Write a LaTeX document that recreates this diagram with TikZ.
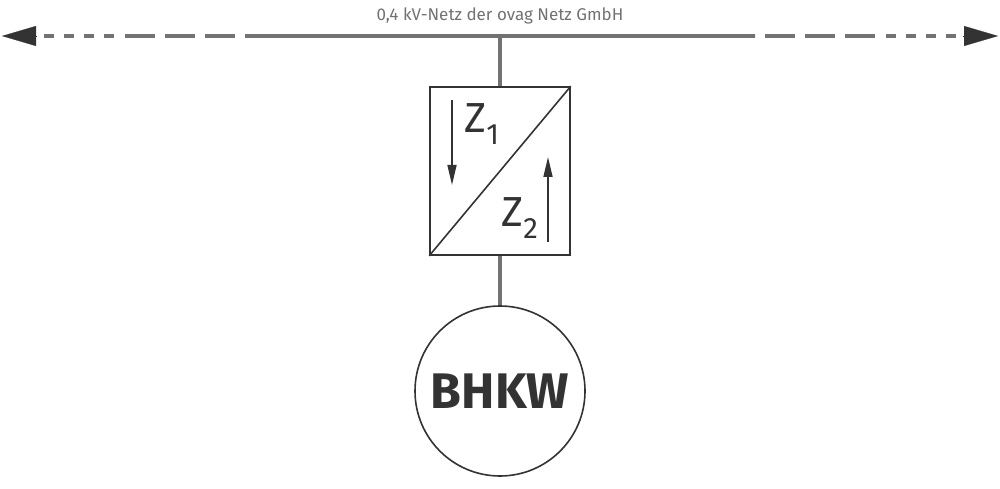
\documentclass[tikz,border=0pt]{standalone}
\usepackage{fontspec}
\setmainfont{Fira Sans}
\usetikzlibrary{arrows.meta}
\definecolor{netgray}{HTML}{727272}
\definecolor{darkink}{HTML}{333333}
\begin{document}
\begin{tikzpicture}[x=1pt,y=-1pt,
  netline/.style={netgray,line width=4pt},
  tip/.style={darkink,-{Triangle[length=34pt,width=20pt]},line width=0.1pt},
  flow/.style={darkink,line width=1.6pt,-{Triangle[length=20pt,width=9pt]}}]

  \useasboundingbox (0,0) rectangle (1000,489);

  % bus
  \node[netgray,font=\fontsize{17}{20}\selectfont] (title) at (500,16) {0,4 kV-Netz der ovag Netz GmbH};
  \coordinate (bus) at (500,36);
  \draw[netline] (245,36) -- (755,36);
  \draw[netline,dash pattern=on 30pt off 10pt] (125,36) -- (245,36);
  \draw[netline,dash pattern=on 30pt off 10pt] (875,36) -- (755,36);
  \draw[netline,dash pattern=on 10pt off 10pt] (44,36) -- (124,36);
  \draw[netline,dash pattern=on 10pt off 10pt] (956,36) -- (876,36);
  \draw[tip] (37,36) -- (2,36);
  \draw[tip] (963,36) -- (998,36);

  % converter
  \node[draw=darkink,line width=1.6pt,minimum width=140pt,minimum height=168pt,inner sep=0pt] (conv) at (500,171) {};
  \draw[darkink,line width=1.6pt] (conv.south west) -- (conv.north east);
  \node[darkink,font=\fontsize{42}{44}\selectfont] (z1) at (482,124) {Z\textsubscript{1}};
  \node[darkink,font=\fontsize{42}{44}\selectfont] (z2) at (520,218) {Z\textsubscript{2}};
  \coordinate (d1) at (452,100);
  \coordinate (d2) at (452,185);
  \coordinate (u1) at (548,242);
  \coordinate (u2) at (548,157);
  \draw[flow] (d1) -- (d2);
  \draw[flow] (u1) -- (u2);

  % generator
  \node[circle,draw=darkink,line width=1.6pt,minimum size=170pt,inner sep=0pt,
        font=\fontsize{50}{52}\selectfont\bfseries,text=darkink] (bhkw) at (500,391) {BHKW};

  \draw[netline] (bus) -- (conv.north);
  \draw[netline] (conv.south) -- (bhkw.north);
\end{tikzpicture}
\end{document}
